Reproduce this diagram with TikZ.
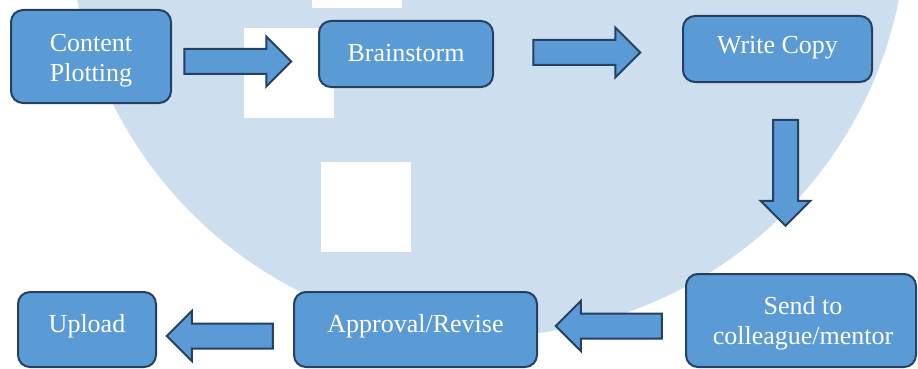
\documentclass[tikz,border=0pt]{standalone}
\usepackage{fontspec}
\setmainfont{Liberation Serif}
\usetikzlibrary{shapes.arrows}
\definecolor{boxfill}{RGB}{91,155,213}
\definecolor{boxline}{RGB}{37,64,97}
\definecolor{wmark}{RGB}{205,223,238}
\tikzset{
  stepbox/.style={draw=boxline, fill=boxfill, line width=2pt, rounded corners=12pt, inner sep=0pt},
  boxtext/.style={text=white, font=\fontsize{26}{30}\selectfont, inner sep=0pt, align=center},
  blockarrow/.style={single arrow, draw=boxline, fill=boxfill, line width=2pt,
    inner xsep=0pt, inner ysep=11.5pt, minimum width=48pt,
    single arrow head extend=12.5pt, single arrow tip angle=90},
  downarrow/.style={blockarrow, inner xsep=11.5pt, inner ysep=0pt, shape border rotate=270},
}
\begin{document}
\begin{tikzpicture}[x=1pt, y=-1pt]
\useasboundingbox (0,0) rectangle (918,369);
\begin{scope}
  \clip (0,0) rectangle (918,369);
  \fill[wmark] (488,-83) circle[radius=419];
  \fill[white] (312,-82) rectangle (402,8);
  \fill[white] (244,28) rectangle (334,118);
  \fill[white] (321,162) rectangle (411,252);
\end{scope}
% boxes
\node[stepbox, minimum width=160pt, minimum height=93pt] (cp) at (91,56.5) {};
\node[stepbox, minimum width=174pt, minimum height=66pt] (bs) at (406,54) {};
\node[stepbox, minimum width=189pt, minimum height=66pt] (wc) at (777.5,49) {};
\node[stepbox, minimum width=230pt, minimum height=93pt] (sd) at (801,320.5) {};
\node[stepbox, minimum width=243pt, minimum height=75pt] (ap) at (415.5,329.5) {};
\node[stepbox, minimum width=138pt, minimum height=75pt] (up) at (87,329.5) {};
% texts
\node[boxtext] (tcp) at (91,60.5) {Content\\Plotting};
\node[boxtext, anchor=base] (tbs) at (406,62) {Brainstorm};
\node[boxtext, anchor=base] (twc) at (777.5,54) {Write Copy};
\node[boxtext] (tsd) at (803,323) {Send to\\colleague/mentor};
\node[boxtext, anchor=base] (tap) at (415.5,332) {Approval/Revise};
\node[boxtext, anchor=base] (tup) at (87,332) {Upload};
% block arrows
\node[blockarrow, minimum height=107pt] (a1) at (231.5,61.5) {};
\node[blockarrow, minimum height=107pt] (a2) at (580.5,52.5) {};
\node[downarrow, minimum height=106pt] (a3) at (785.5,166.5) {};
\node[blockarrow, minimum height=106pt, shape border rotate=180] (a4) at (615,326) {};
\node[blockarrow, minimum height=106pt, shape border rotate=180] (a5) at (226,336) {};
\end{tikzpicture}
\end{document}
